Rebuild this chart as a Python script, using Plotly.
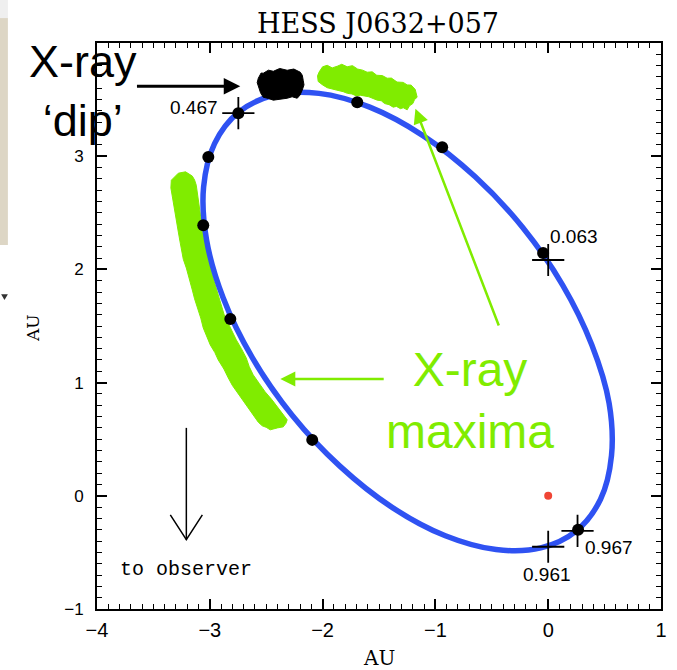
import plotly.graph_objects as go

# ---------------- data (AU) ----------------
orbit_x = [0.250, 0.464, 0.561, 0.540, 0.387, 0.128, -0.224, -0.647, -1.110, -1.582,
           -2.032, -2.428, -2.744, -2.958, -3.055, -3.029, -2.881, -2.622, -2.270, -1.847,
           -1.384, -0.912, -0.462, -0.066, 0.250]
orbit_y = [-0.309, -0.031, 0.353, 0.818, 1.333, 1.862, 2.368, 2.818, 3.182, 3.433,
           3.555, 3.540, 3.389, 3.111, 2.727, 2.262, 1.747, 1.218, 0.712, 0.262,
           -0.102, -0.353, -0.475, -0.460, -0.309]

dots_x = [-2.747, -3.013, -3.058, -2.818, -2.092, -1.693, -0.940, -0.045, 0.265]
dots_y = [3.380, 2.992, 2.391, 1.562, 0.494, 3.477, 3.080, 2.144, -0.300]

cross_phase = ["0.467", "0.063", "0.961", "0.967"]
cross_x = [-2.747, 0.000, 0.000, 0.260]
cross_y = [3.380, 2.083, -0.450, -0.309]

star_x = [0.0]
star_y = [0.0]

max_top_x = [-2.030, -2.000, -1.959, -1.915, -1.870, -1.830, -1.782, -1.735, -1.690, -1.645,
             -1.605, -1.560, -1.520, -1.470, -1.428, -1.390, -1.340, -1.286, -1.250, -1.215,
             -1.179, -1.170, -1.162, -1.185, -1.200, -1.230, -1.250, -1.285, -1.310, -1.345,
             -1.374, -1.410, -1.450, -1.480, -1.516, -1.590, -1.667, -1.700, -1.740, -1.780,
             -1.817, -1.880, -1.959, -2.000, -2.039, -2.045]
max_top_y = [3.745, 3.790, 3.803, 3.780, 3.795, 3.812, 3.790, 3.800, 3.770, 3.760,
             3.742, 3.745, 3.715, 3.712, 3.689, 3.690, 3.655, 3.652, 3.630, 3.628,
             3.590, 3.560, 3.521, 3.500, 3.465, 3.445, 3.410, 3.428, 3.420, 3.440,
             3.433, 3.455, 3.465, 3.490, 3.495, 3.525, 3.539, 3.532, 3.550, 3.555,
             3.570, 3.585, 3.605, 3.630, 3.660, 3.710]

max_left_x = [-3.279, -3.215, -3.155, -3.135, -3.120, -3.110, -3.102, -3.095, -3.084, -3.070,
              -3.058, -3.040, -3.022, -3.000, -2.978, -2.950, -2.925, -2.900, -2.872, -2.820,
              -2.765, -2.720, -2.677, -2.650, -2.615, -2.560, -2.509, -2.450, -2.393, -2.350,
              -2.314, -2.325, -2.349, -2.400, -2.464, -2.500, -2.535, -2.570, -2.597, -2.640,
              -2.686, -2.725, -2.757, -2.800, -2.836, -2.875, -2.925, -2.955, -2.996, -3.030,
              -3.058, -3.080, -3.111, -3.135, -3.155, -3.180, -3.208, -3.235, -3.253, -3.265,
              -3.279, -3.292, -3.305, -3.320, -3.332, -3.345, -3.341]
max_left_y = [2.850, 2.862, 2.824, 2.790, 2.744, 2.680, 2.612, 2.545, 2.480, 2.390,
              2.303, 2.215, 2.127, 2.040, 1.950, 1.860, 1.774, 1.690, 1.597, 1.490,
              1.377, 1.300, 1.218, 1.140, 1.068, 0.990, 0.918, 0.850, 0.777, 0.725,
              0.671, 0.640, 0.609, 0.600, 0.583, 0.605, 0.618, 0.650, 0.688, 0.745,
              0.803, 0.860, 0.909, 0.975, 1.041, 1.120, 1.200, 1.265, 1.333, 1.410,
              1.483, 1.570, 1.659, 1.740, 1.818, 1.915, 2.012, 2.090, 2.171, 2.250,
              2.330, 2.410, 2.489, 2.570, 2.656, 2.720, 2.788]

dip_x = [-2.570, -2.545, -2.526, -2.480, -2.437, -2.380, -2.314, -2.255, -2.198, -2.180,
         -2.172, -2.165, -2.181, -2.200, -2.225, -2.270, -2.314, -2.380, -2.437, -2.480,
         -2.526, -2.550, -2.570, -2.580]
dip_y = [3.689, 3.735, 3.733, 3.760, 3.750, 3.775, 3.759, 3.770, 3.742, 3.715,
         3.671, 3.630, 3.583, 3.540, 3.512, 3.525, 3.512, 3.500, 3.495, 3.510,
         3.521, 3.560, 3.609, 3.650]

x_ticks = [-4, -3, -2, -1, 0, 1]
y_ticks = [-1, 0, 1, 2, 3]
x_range = [-4, 1]
y_range = [-1, 4]
minor_step = 0.1

BLUE = "#2f52f2"
GREEN = "#80ec00"

fig = go.Figure()

fig.add_trace(go.Scatter(x=max_top_x + max_top_x[:1], y=max_top_y + max_top_y[:1],
                         mode="lines", fill="toself", fillcolor=GREEN,
                         line=dict(color=GREEN, width=1), hoverinfo="skip"))
fig.add_trace(go.Scatter(x=max_left_x + max_left_x[:1], y=max_left_y + max_left_y[:1],
                         mode="lines", fill="toself", fillcolor=GREEN,
                         line=dict(color=GREEN, width=1), hoverinfo="skip"))
fig.add_trace(go.Scatter(x=orbit_x, y=orbit_y, mode="lines",
                         line=dict(color=BLUE, width=5.5, shape="spline"), hoverinfo="skip"))
fig.add_trace(go.Scatter(x=dip_x + dip_x[:1], y=dip_y + dip_y[:1],
                         mode="lines", fill="toself", fillcolor="black",
                         line=dict(color="black", width=1), hoverinfo="skip"))
fig.add_trace(go.Scatter(x=dots_x, y=dots_y, mode="markers",
                         marker=dict(color="black", size=12), hoverinfo="skip"))
fig.add_trace(go.Scatter(x=cross_x, y=cross_y, mode="markers",
                         marker=dict(symbol="cross-thin", size=23, color="black",
                                     line=dict(color="black", width=1.8)), hoverinfo="skip"))
fig.add_trace(go.Scatter(x=star_x, y=star_y, mode="markers",
                         marker=dict(color="#f04535", size=8), hoverinfo="skip"))
# invisible trace that carries the minor-tick axes
fig.add_trace(go.Scatter(x=star_x, y=star_y, mode="markers", xaxis="x2", yaxis="y2",
                         marker=dict(opacity=0), hoverinfo="skip"))

tickfont_x = dict(family="Liberation Sans", size=20, color="black")
tickfont_y = dict(family="Liberation Sans", size=17, color="black")
hidden_font = dict(size=1, color="rgba(0,0,0,0)")

major = dict(tickmode="array", ticks="inside", ticklen=10, tickwidth=1.5, tickcolor="black",
             showline=True, linewidth=1.8, linecolor="black", mirror="allticks",
             showgrid=False, zeroline=False)
minor = dict(tickmode="linear", tick0=0, dtick=minor_step, ticks="inside", ticklen=5,
             tickwidth=1.2, tickcolor="black", showticklabels=True, tickfont=hidden_font,
             ticklabelstandoff=1,
             showline=True, linewidth=1.8, linecolor="black", mirror="allticks",
             showgrid=False, zeroline=False)

fig.update_layout(
    template="none",
    xaxis=dict(range=x_range, tickvals=x_ticks, tickfont=tickfont_x, ticklabelstandoff=2, **major),
    yaxis=dict(range=y_range, tickvals=y_ticks, tickfont=tickfont_y, ticklabelstandoff=8, **major),
    xaxis2=dict(range=x_range, overlaying="x", anchor="y2", side="bottom", **minor),
    yaxis2=dict(range=y_range, overlaying="y", anchor="x2", side="left", **minor),
)

ann = []
lab_pos = {"0.467": (-2.907, 3.433, "right"), "0.063": (0.0, 2.290, "left"),
           "0.961": (-0.014, -0.693, "center"), "0.967": (0.309, -0.459, "left")}
for p in cross_phase:
    lx, ly, anc = lab_pos[p]
    ann.append(dict(x=lx, y=ly, xref="x", yref="y", text=p, showarrow=False,
                    xanchor=anc, yanchor="middle",
                    font=dict(family="Liberation Sans", size=19, color="black")))
ann.append(dict(x=0.498, y=1.035, xref="paper", yref="paper", text="HESS J0632+057",
                showarrow=False, xanchor="center", yanchor="middle",
                font=dict(family="DejaVu Serif", size=27, color="black")))
ann.append(dict(x=0.5, y=-0.087, xref="paper", yref="paper", text="AU",
                showarrow=False, xanchor="center", yanchor="middle",
                font=dict(family="DejaVu Serif", size=20, color="black")))
ann.append(dict(x=-0.1135, y=0.4965, xref="paper", yref="paper", text="AU", textangle=-90,
                showarrow=False, xanchor="center", yanchor="middle",
                font=dict(family="DejaVu Serif", size=17, color="black")))
ann.append(dict(x=-3.208, y=-0.653, xref="x", yref="y", text="to observer",
                showarrow=False, xanchor="center", yanchor="middle",
                font=dict(family="Liberation Mono", size=20, color="black")))
ann.append(dict(x=-0.025, y=0.915, xref="paper", yref="paper", text="X-ray<br>‘dip’",
                showarrow=False, xanchor="center", yanchor="middle",
                font=dict(family="Liberation Sans", size=45, color="black")))
ann.append(dict(x=0.661, y=0.369, xref="paper", yref="paper", text="X-ray<br>maxima",
                showarrow=False, xanchor="center", yanchor="middle",
                font=dict(family="Liberation Sans", size=48, color=GREEN)))
ann.append(dict(x=-2.730, y=3.618, ax=-3.659, ay=3.618, xref="x", yref="y",
                axref="x", ayref="y", text="", showarrow=True, arrowhead=2,
                arrowsize=1.1, arrowwidth=3, arrowcolor="black", standoff=0))
ann.append(dict(x=-1.177, y=3.420, ax=-0.433, ay=1.491, xref="x", yref="y",
                axref="x", ayref="y", text="", showarrow=True, arrowhead=2,
                arrowsize=1.2, arrowwidth=2.5, arrowcolor=GREEN, standoff=0))
ann.append(dict(x=-2.375, y=1.032, ax=-1.445, ay=1.032, xref="x", yref="y",
                axref="x", ayref="y", text="", showarrow=True, arrowhead=2,
                arrowsize=1.2, arrowwidth=2.5, arrowcolor=GREEN, standoff=0))

shapes = [
    dict(type="line", xref="x", yref="y", x0=-3.208, y0=0.600, x1=-3.208, y1=-0.388,
         line=dict(color="black", width=1.5)),
    dict(type="path", xref="x", yref="y",
         path="M -3.350,-0.168 L -3.208,-0.388 L -3.066,-0.168",
         line=dict(color="black", width=1.5)),
    dict(type="rect", xref="paper", yref="paper", x0=-0.172, x1=-0.158, y0=0.643, y1=1.044,
         fillcolor="#ddd6c5", line=dict(width=0), layer="below"),
    dict(type="rect", xref="paper", yref="paper", x0=-0.172, x1=-0.158, y0=1.044, y1=1.076,
         fillcolor="#efefef", line=dict(width=0), layer="below"),
    dict(type="path", xref="paper", yref="paper",
         path="M -0.170,0.556 L -0.158,0.556 L -0.164,0.546 Z",
         fillcolor="#333333", line=dict(width=0)),
]

fig.update_layout(width=677, height=670, margin=dict(l=97, r=16, t=43, b=61),
                  paper_bgcolor="white", plot_bgcolor="white", showlegend=False,
                  annotations=ann, shapes=shapes)

fig.write_html("out.html")
